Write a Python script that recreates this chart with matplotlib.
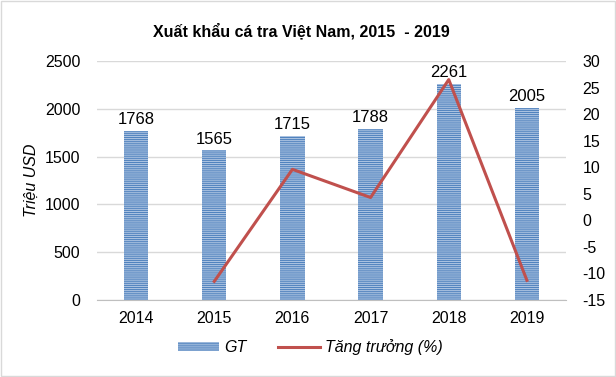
import numpy as np
import matplotlib.pyplot as plt

plt.rcParams['font.family'] = ['Liberation Sans', 'DejaVu Sans']
plt.rcParams['axes.unicode_minus'] = False
plt.rcParams['hatch.linewidth'] = 0.8

years = ['2014', '2015', '2016', '2017', '2018', '2019']
gt = [1768, 1565, 1715, 1788, 2261, 2005]
growth_years = ['2015', '2016', '2017', '2018', '2019']
growth = [-11.5, 9.6, 4.3, 26.5, -11.3]

fig = plt.figure(figsize=(6.16, 3.77), dpi=100)
ax = fig.add_axes([97/616, 1 - 300/377, 469/616, 239/377])
x = np.arange(len(years))

bars = ax.bar(x, gt, width=0.31, color='#4F81BD', edgecolor='#A9C1E0',
              linewidth=0, hatch='--------', label='GT', zorder=2)
for xi, v in zip(x, gt):
    ax.text(xi, v + 40, str(v), ha='center', va='bottom', fontsize=12)

ax.set_xlim(-0.5, len(years) - 0.5)
ax.set_ylim(0, 2500)
ax.set_yticks(range(0, 2501, 500))
ax.set_xticks(x)
ax.set_xticklabels(years)
ax.grid(axis='y', color='#D9D9D9', linewidth=1, zorder=0)
ax.set_ylabel('Triệu USD', style='italic', fontsize=11.5)
for s in ['top', 'right', 'left']:
    ax.spines[s].set_visible(False)
ax.spines['bottom'].set_color('#BFBFBF')
ax.tick_params(axis='both', labelsize=11.5, length=0, colors='#000000')
ax.tick_params(axis='y', pad=12)
ax.tick_params(axis='x', pad=8)

ax2 = ax.twinx()
gx = [years.index(y) for y in growth_years]
ax2.plot(gx, growth, color='#C0504D', linewidth=2.2, label='Tăng trưởng (%)', zorder=3)
ax2.set_ylim(-15, 30)
ax2.set_yticks(range(-15, 31, 5))
for s in ['top', 'right', 'left', 'bottom']:
    ax2.spines[s].set_visible(False)
ax2.tick_params(axis='y', labelsize=11.5, length=0, pad=12)

fig.suptitle('Xuất khẩu cá tra Việt Nam, 2015  - 2019', fontsize=11.5, fontweight='bold',
             x=301/616, y=0.94)

h1, l1 = ax.get_legend_handles_labels()
h2, l2 = ax2.get_legend_handles_labels()
leg = fig.legend(h1 + h2, l1 + l2, loc='center', bbox_to_anchor=(310/616, 1 - 347/377),
                 ncol=2, frameon=False, fontsize=11.5, handlelength=2.6, handleheight=0.5,
                 handletextpad=0.3, columnspacing=2.0)
for t in leg.get_texts():
    t.set_style('italic')

fig.patches.append(plt.Rectangle((0.002, 0.003), 0.996, 0.994, transform=fig.transFigure,
                                 fill=False, edgecolor='#D9D9D9', linewidth=1))

plt.savefig('out.png', dpi=100)
